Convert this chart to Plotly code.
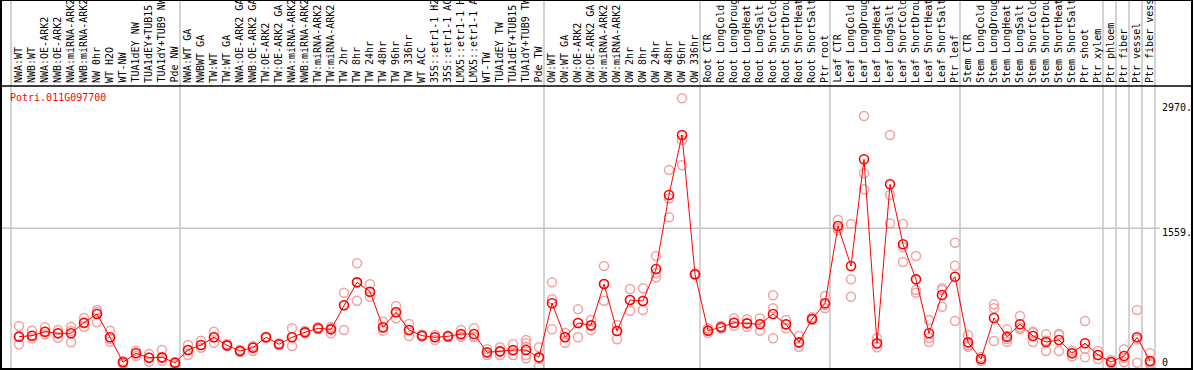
import plotly.graph_objects as go

W, H = 1194, 370

categories = [
    "NWA:WT", "NWB:WT", "NWA:OE-ARK2", "NWB:OE-ARK2", "NWA:miRNA-ARK2", "NWB:miRNA-ARK2",
    "NW 0hr", "WT H2O", "WT-NW", "TUA1dEY NW", "TUA1dEY+TUB15", "TUA1dY+TUB9 NW", "Pde NW",
    "NWA:WT GA", "NWBWT GA", "TW:WT", "TW:WT GA", "NWA:OE-ARK2 GA", "NWB:OE-ARK2 GA",
    "TW:OE-ARK2", "TW:OE-ARK2 GA", "NWA:miRNA-ARK2", "NWB:miRNA-ARK2", "TW:miRNA-ARK2",
    "TW:miRNA-ARK2", "TW 2hr", "TW 8hr", "TW 24hr", "TW 48hr", "TW 96hr", "TW 336hr",
    "WT ACC", "35S::etr1-1 H2", "35S::etr1-1 AC", "LMX5::etr1-1 H", "LMX5::etr1-1 A",
    "WT-TW", "TUA1dEY TW", "TUA1dEY+TUB15", "TUA1dY+TUB9 TW", "Pde TW",
    "OW:WT", "OW:WT GA", "OW:OE-ARK2", "OW:OE-ARK2 GA", "OW:miRNA-ARK2", "OW:miRNA-ARK2",
    "OW 2hr", "OW 8hr", "OW 24hr", "OW 48hr", "OW 96hr", "OW 336hr",
    "Root CTR", "Root LongCold", "Root LongDroug", "Root LongHeat", "Root LongSalt",
    "Root ShortCold", "Root ShortDrou", "Root ShortHeat", "Root ShortSalt", "Ptr root",
    "Leaf CTR", "Leaf LongCold", "Leaf LongDroug", "Leaf LongHeat", "Leaf LongSalt",
    "Leaf ShortCold", "Leaf ShortDrou", "Leaf ShortHeat", "Leaf ShortSalt", "Ptr leaf",
    "Stem CTR", "Stem LongCold", "Stem LongDroug", "Stem LongHeat", "Stem LongSalt",
    "Stem ShortCold", "Stem ShortDrou", "Stem ShortHeat", "Stem ShortSalt",
    "Ptr shoot", "Ptr xylem", "Ptr phloem", "Ptr fiber", "Ptr vessel", "Ptr fiber vess",
]

means = [
    332, 343, 388, 370, 370, 490, 589, 325, 42, 144, 94, 98, 37,
    181, 238, 325, 234, 170, 207, 325, 246, 325, 381, 427, 415, 687, 947, 841, 438, 608,
    408, 343, 325, 336, 362, 362, 155, 166, 181, 181, 98,
    710, 325, 487, 461, 928, 396, 747, 736, 1098, 1936, 2615, 1038,
    400, 438, 490, 483, 472, 589, 472, 268, 532, 710,
    1585, 1132, 2340, 257, 2057, 1378, 981, 370, 804, 1011,
    268, 79, 543, 332, 472, 340, 272, 294, 144, 257, 125, 45,
    113, 325, 57,
]

replicates = [
    [453, 332, 246], [400, 314, 343], [438, 359, 388], [408, 320, 370], [445, 268, 396],
    [543, 483, 445], [634, 611, 495], [400, 275, 306], [45, 23, 57], [173, 113, 147],
    [136, 49, 96], [181, 60, 91], [11, 45, 28],
    [238, 125, 181], [286, 207, 238], [388, 264, 325], [249, 226, 232], [181, 164, 158],
    [226, 170, 215], [332, 323, 317], [257, 238, 243], [427, 226, 328], [396, 374, 379],
    [438, 419, 425], [441, 370, 430], [830, 408, 691], [1163, 739, 947], [925, 784, 838],
    [501, 400, 430], [679, 540, 611], [475, 340, 408], [357, 340, 334], [351, 294, 328],
    [345, 328, 334], [408, 332, 351], [427, 332, 328], [189, 125, 151], [212, 125, 162],
    [246, 125, 173], [294, 257, 218, 125, 87], [212, 0, 82],
    [947, 755, 415], [377, 264, 328], [642, 325, 487], [521, 408, 453], [1132, 739, 928],
    [464, 302, 396], [872, 626, 747], [880, 634, 736], [1245, 1049, 1004],
    [2219, 1898, 1683], [3030, 2558, 2272], [1030, 1045, 1038],
    [427, 374, 400], [453, 423, 438], [540, 456, 487], [529, 445, 481], [540, 400, 475],
    [800, 653, 314], [521, 427, 470], [340, 218, 260], [551, 521, 526], [792, 653, 691],
    [1653, 1540, 1562], [1607, 981, 784], [2830, 2181, 2000], [314, 212, 249],
    [2615, 1936, 1615], [1607, 1344, 1177], [1245, 860, 830], [521, 272, 317],
    [880, 671, 860], [1396, 1135, 509], [351, 218, 238],
    [102, 57, 79], [698, 653, 283], [415, 275, 306], [566, 415, 436], [388, 272, 374],
    [359, 170, 289], [362, 170, 351], [173, 108, 147], [509, 196, 98], [170, 79, 125],
    [68, 34, 45], [189, 45, 91], [634, 37, 304], [144, 19, 40],
]

group_starts = [0, 13, 41, 53, 63, 73, 84, 85, 86, 87, 88]
y_labels = [2970, 1559, 0]
y_label_text = ["2970.", "1559.", "0"]
gene_id = "Potri.011G097700"

x_idx = list(range(len(categories)))
rep_x, rep_y = [], []
for i, reps in enumerate(replicates):
    for v in reps:
        rep_x.append(i)
        rep_y.append(v)

MONO = "DejaVu Sans Mono"
fig = go.Figure()
fig.add_trace(go.Scatter(
    x=rep_x, y=rep_y, mode="markers",
    marker=dict(symbol="circle-open", size=9, color="#f2a2a2", line=dict(width=1.5, color="#f2a2a2")),
    hoverinfo="skip", cliponaxis=False,
))
fig.add_trace(go.Scatter(
    x=x_idx, y=means, mode="lines+markers",
    line=dict(color="#ff0000", width=1),
    marker=dict(symbol="circle-open", size=9, color="#ff0000", line=dict(width=1.6, color="#ff0000")),
    text=categories, cliponaxis=False,
))

# pixel mapping: category i centred at 19 + 13*i ; value 0 at pixel 366, 11.32 units / px
x0 = -19 / 13
ymin = -4 * 11.32
ymax = ymin + H * 11.32

shapes = []
for b in group_starts:
    shapes.append(dict(type="line", xref="x", yref="paper", x0=b - 8 / 13, x1=b - 8 / 13, y0=0, y1=1,
                       line=dict(color="#c4c4c4", width=1.5), layer="below"))
shapes.append(dict(type="line", xref="paper", yref="y", x0=0, x1=1160 / W, y0=y_labels[1], y1=y_labels[1],
                   line=dict(color="#c4c4c4", width=1.5), layer="below"))
hdr = (H - 86) / H
shapes.append(dict(type="line", xref="paper", yref="paper", x0=0, x1=1192 / W, y0=hdr, y1=hdr,
                   line=dict(color="#000000", width=1.5)))
shapes.append(dict(type="rect", xref="paper", yref="paper", x0=1 / W, x1=1192 / W, y0=1 / H, y1=1,
                   line=dict(color="#000000", width=2), fillcolor="rgba(0,0,0,0)"))

annotations = []
for i, c in enumerate(categories):
    annotations.append(dict(x=i, y=(H - 84) / H, xref="x", yref="paper", text=c, showarrow=False,
                            textangle=-90, xanchor="center", yanchor="bottom", borderpad=0, xshift=-1,
                            font=dict(family=MONO, size=10, color="#000000")))
shifts = [-4, -4, 4]
for v, t, s in zip(y_labels, y_label_text, shifts):
    annotations.append(dict(x=1161 / W, y=v, xref="paper", yref="y", text=t, showarrow=False,
                            xanchor="left", yanchor="middle", yshift=s, borderpad=0,
                            font=dict(family=MONO, size=10, color="#000000")))
annotations.append(dict(x=9 / W, y=(H - 97) / H, xref="paper", yref="paper", text=gene_id, showarrow=False,
                        xanchor="left", yanchor="middle", borderpad=0,
                        font=dict(family=MONO, size=10, color="#ff0000")))

fig.update_layout(
    width=W, height=H, margin=dict(l=0, r=0, t=0, b=0),
    paper_bgcolor="white", plot_bgcolor="white", showlegend=False,
    xaxis=dict(visible=False, range=[x0, x0 + W / 13], fixedrange=True),
    yaxis=dict(visible=False, range=[ymin, ymax], fixedrange=True),
    shapes=shapes, annotations=annotations,
)
fig.write_html(
    "out.html",
    config={"displayModeBar": False},
    post_script="document.body.style.margin='0';document.body.style.overflow='hidden';",
)
